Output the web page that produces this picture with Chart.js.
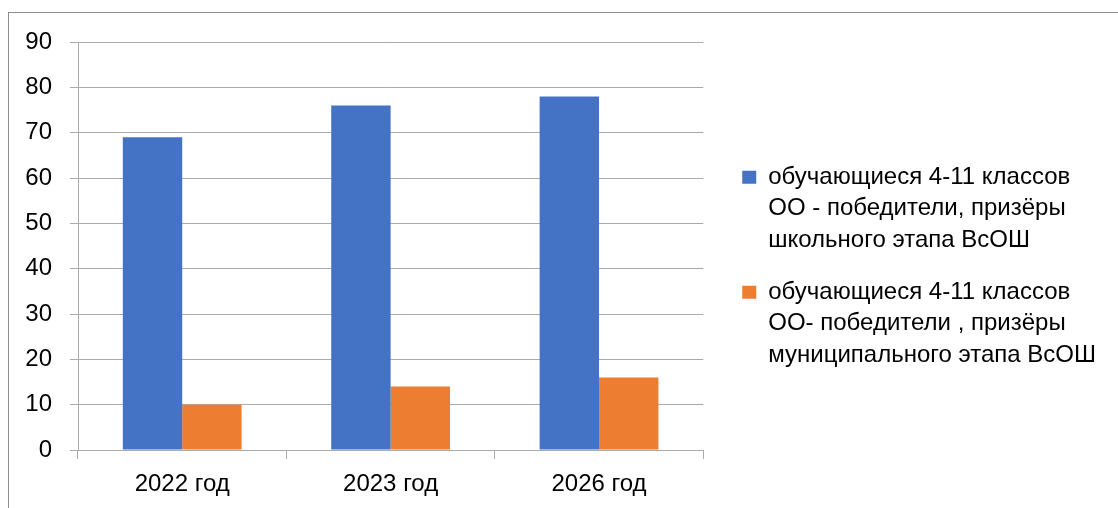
<!DOCTYPE html>
<html><head><meta charset="utf-8">
<script src="https://cdn.jsdelivr.net/npm/chart.js@4.4.1/dist/chart.umd.min.js"></script>
<style>
html,body{margin:0;padding:0;background:#fff;overflow:hidden;width:1118px;height:508px;}
#frame{position:absolute;left:8px;top:12px;width:1300px;height:700px;border:1px solid #8e8e8e;box-sizing:border-box;}
#wrap{position:absolute;left:9px;top:13px;width:1109px;height:495px;}
</style></head><body>
<div id="frame"></div>
<div id="wrap"><canvas id="c"></canvas></div>
<script>
const categories = ['2022 год', '2023 год', '2026 год'];
const schoolStage = [69, 76, 78];
const municipalStage = [10, 14, 16];
const seriesNames = [
  ['обучающиеся 4-11 классов', 'ОО - победители, призёры', 'школьного этапа ВсОШ'],
  ['обучающиеся 4-11 классов', 'ОО- победители , призёры', 'муниципального этапа ВсОШ']
];
const seriesColors = ['#4472C4', '#ED7D31'];
const yTickValues = [0, 10, 20, 30, 40, 50, 60, 70, 80, 90];

const FONT = "'Liberation Sans', Arial, sans-serif";
const GRID = '#ababab';

new Chart(document.getElementById('c'), {
  type: 'bar',
  data: {
    labels: categories,
    datasets: [
      { label: seriesNames[0].join(' '), data: schoolStage, backgroundColor: seriesColors[0] },
      { label: seriesNames[1].join(' '), data: municipalStage, backgroundColor: seriesColors[1] }
    ]
  },
  options: {
    responsive: true,
    maintainAspectRatio: false,
    animation: false,
    devicePixelRatio: 1,
    datasets: { bar: { categoryPercentage: 0.57, barPercentage: 1.0 } },
    layout: { padding: { top: 29, left: 0, right: 12, bottom: 10 } },
    plugins: {
      tooltip: { enabled: false },
      legend: {
        position: 'right',
        align: 'center',
        maxWidth: 1000,
        labels: {
          color: '#000',
          font: { family: FONT, size: 24, lineHeight: 1.3125 },
          boxWidth: 14,
          boxHeight: 13,
          padding: 20.5,
          generateLabels: (chart) => chart.data.datasets.map((ds, i) => ({
            text: seriesNames[i],
            fillStyle: seriesColors[i],
            strokeStyle: seriesColors[i],
            lineWidth: 0,
            hidden: false,
            datasetIndex: i,
            fontColor: '#000'
          }))
        }
      }
    },
    scales: {
      x: {
        offset: true,
        grid: { display: true, drawOnChartArea: false, drawTicks: true, tickLength: 9, offset: true, color: GRID, lineWidth: 1 },
        border: { display: true, color: GRID },
        ticks: { color: '#000', font: { family: FONT, size: 24 }, padding: 11, maxRotation: 0, autoSkip: false },
        afterFit: (s) => { s.height = 48; s.paddingLeft = 0; s.paddingRight = 0; }
      },
      y: {
        min: 0, max: 90,
        afterBuildTicks: (s) => { s.ticks = yTickValues.map(v => ({ value: v })); },
        grid: { color: GRID, tickLength: 8, lineWidth: 1 },
        border: { display: true, color: GRID },
        ticks: { color: '#000', font: { family: FONT, size: 24 }, padding: 18 },
        afterFit: (s) => { s.width = 69; s.paddingTop = 0; s.paddingBottom = 0; }
      },
      spacer: {
        type: 'linear',
        position: 'right',
        display: true,
        grid: { display: false, drawTicks: false },
        border: { display: false },
        ticks: { display: false },
        afterFit: (s) => { s.width = 18.5; s.paddingTop = 0; s.paddingBottom = 0; }
      }
    }
  }
});
</script>
</body></html>
